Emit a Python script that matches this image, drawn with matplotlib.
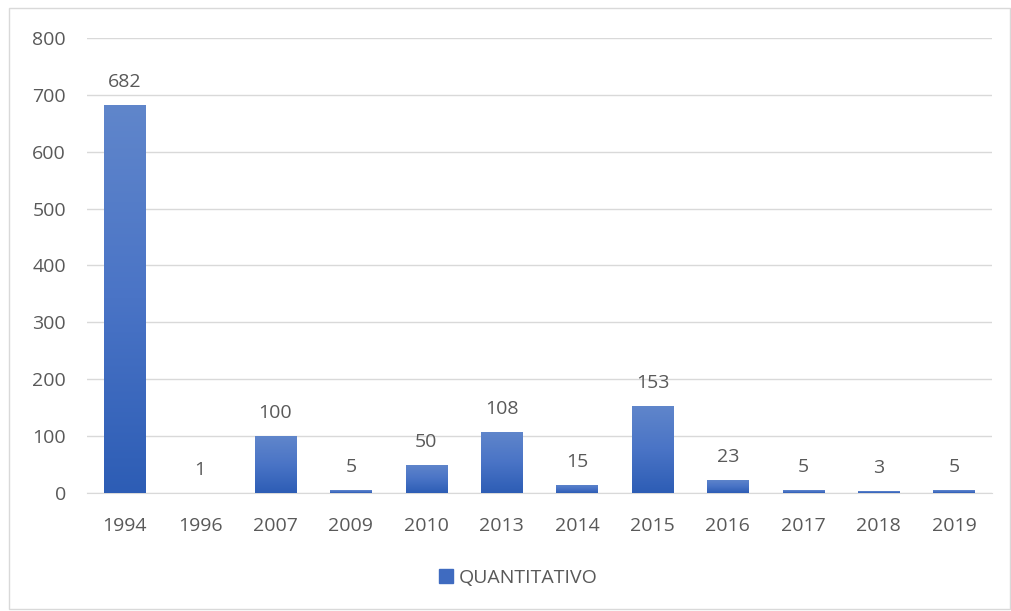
import numpy as np
import matplotlib
matplotlib.use("Agg")
import matplotlib.pyplot as plt
from matplotlib.colors import LinearSegmentedColormap
from matplotlib.patches import Rectangle

anos = ["1994", "1996", "2007", "2009", "2010", "2013", "2014", "2015", "2016", "2017", "2018", "2019"]
quantitativo = [682, 1, 100, 5, 50, 108, 15, 153, 23, 5, 3, 5]

plt.rcParams['font.family'] = ['Open Sans', 'DejaVu Sans']
cor_texto = "#595959"

fig = plt.figure(figsize=(10.11, 6.11), dpi=100)
ax = fig.add_axes([0.086, 0.193, 0.895, 0.745])

x = np.arange(len(anos))
bars = ax.bar(x, quantitativo, width=0.55, color="#4472C4", zorder=3,
              label="QUANTITATIVO")

# gradiente vertical em cada barra
cmap = LinearSegmentedColormap.from_list("grad", ["#2D5DB5", "#4A74C6", "#6086CB"])
grad = np.linspace(0, 1, 256).reshape(-1, 1)
for b in bars:
    h = b.get_height()
    if h <= 0:
        continue
    im = ax.imshow(grad, cmap=cmap, aspect="auto", origin="lower",
                   extent=[b.get_x(), b.get_x() + b.get_width(), 0, h], zorder=3)
    im.set_clip_path(b)
    b.set_facecolor("none")

for xi, v in zip(x, quantitativo):
    ax.annotate(str(v), (xi, v), xytext=(0, 10), textcoords="offset points",
                ha="center", va="bottom", fontsize=14, color=cor_texto)

ax.set_xlim(-0.5, len(anos) - 0.5)
ax.set_ylim(0, 800)
ax.set_yticks(range(0, 801, 100))
ax.set_xticks(x)
ax.set_xticklabels(anos)
ax.yaxis.grid(True, color="#d9d9d9", linewidth=1, zorder=0)
ax.set_axisbelow(True)
for s in ["top", "right", "left"]:
    ax.spines[s].set_visible(False)
ax.spines["bottom"].set_color("#d9d9d9")
ax.tick_params(axis="both", length=0, labelsize=14, labelcolor=cor_texto)
ax.tick_params(axis="y", pad=15)
ax.tick_params(axis="x", pad=17)

leg = fig.legend(handles=[Rectangle((0, 0), 1, 1, color="#3F6BC0")], labels=["QUANTITATIVO"],
                 loc="center", bbox_to_anchor=(0.513, 0.054), frameon=False,
                 fontsize=14, handlelength=0.7, handleheight=0.7, handletextpad=0.3)
for t in leg.get_texts():
    t.set_color(cor_texto)

fig.patches.append(Rectangle((0.009, 0.003), 0.99, 0.984, transform=fig.transFigure,
                             fill=False, edgecolor="#d9d9d9", linewidth=1))

fig.savefig("out.png", dpi=100, facecolor="white")
